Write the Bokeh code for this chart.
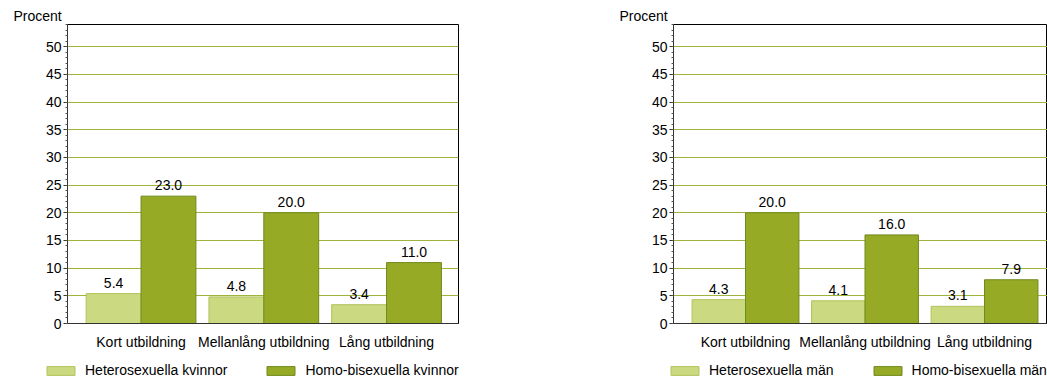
import numpy as np
from bokeh.plotting import figure
from bokeh.layouts import row, column
from bokeh.core.properties import value
from bokeh.models import (ColumnDataSource, Range1d, SingleIntervalTicker, FixedTicker,
                          LabelSet, Legend, LegendItem, Title)
from bokeh.embed import file_html
from bokeh.resources import INLINE

categories = ["Kort utbildning", "Mellanlång utbildning", "Lång utbildning"]
women_hetero = [5.4, 4.8, 3.4]
women_homo = [23.0, 20.0, 11.0]
men_hetero = [4.3, 4.1, 3.1]
men_homo = [20.0, 16.0, 7.9]
legend_women = ["Heterosexuella kvinnor", "Homo-bisexuella kvinnor"]
legend_men = ["Heterosexuella män", "Homo-bisexuella män"]
y_label = "Procent"

FONT = "Liberation Sans"
FS = "14px"
BAR = "#97aa25"
BAR_LINE = "#6f8a1e"
HET = "#cbd981"
HET_LINE = "#b0c45a"
GRID = "#9fb43a"


def make_chart(hetero, homo, x_start, x_end, frame_w, border_left, border_right,
               title_offset):
    centers = np.arange(len(categories)) + 0.5
    w = 0.447
    src_h = ColumnDataSource(dict(x=centers - w / 2, y=hetero,
                                  t=[f"{v:.1f}" for v in hetero]))
    src_b = ColumnDataSource(dict(x=centers + w / 2, y=homo,
                                  t=[f"{v:.1f}" for v in homo]))
    p = figure(frame_width=frame_w, frame_height=299,
               x_range=Range1d(x_start, x_end), y_range=Range1d(0, 54),
               output_backend="svg", toolbar_location=None,
               min_border_left=border_left, min_border_right=border_right,
               min_border_top=24, min_border_bottom=33)
    p.title = Title(text=y_label, align="left", offset=title_offset,
                    text_font=FONT, text_font_size=FS, text_font_style="normal",
                    text_color="black", standoff=1)
    p.background_fill_color = "white"
    p.border_fill_color = "white"
    p.outline_line_color = "black"
    p.outline_line_width = 1

    p.vbar(x="x", top="y", width=w, source=src_h,
           fill_color=HET, line_color=HET_LINE, line_width=1)
    p.vbar(x="x", top="y", width=w, source=src_b,
           fill_color=BAR, line_color=BAR_LINE, line_width=1)

    for s in (src_h, src_b):
        p.add_layout(LabelSet(x="x", y="y", text="t", source=s, text_align="center",
                              text_baseline="alphabetic", y_offset=6,
                              text_font=value(FONT), text_font_size=value(FS),
                              text_color="black"))

    p.yaxis.ticker = SingleIntervalTicker(interval=5, num_minor_ticks=5)
    p.yaxis.major_label_text_font = FONT
    p.yaxis.major_label_text_font_size = FS
    p.yaxis.major_label_text_color = "black"
    p.yaxis.major_tick_out = 4
    p.yaxis.major_tick_in = 0
    p.yaxis.minor_tick_out = 2
    p.yaxis.minor_tick_in = 0
    p.yaxis.major_label_standoff = 2
    p.yaxis.axis_line_color = "#333333"
    p.yaxis.major_tick_line_color = "#333333"
    p.yaxis.minor_tick_line_color = "#555555"

    p.xaxis.ticker = FixedTicker(ticks=list(centers))
    p.xaxis.major_label_overrides = {float(c): cat for c, cat in zip(centers, categories)}
    p.xaxis.major_label_text_font = FONT
    p.xaxis.major_label_text_font_size = FS
    p.xaxis.major_label_text_color = "black"
    p.xaxis.major_tick_line_color = None
    p.xaxis.minor_tick_line_color = None
    p.xaxis.major_tick_out = 0
    p.xaxis.major_tick_in = 0
    p.xaxis.major_label_standoff = 10
    p.xaxis.axis_line_color = "#333333"

    p.xgrid.grid_line_color = None
    p.ygrid.grid_line_color = GRID
    p.ygrid.grid_line_width = 1
    p.ygrid.ticker = FixedTicker(ticks=list(range(5, 55, 5)))
    return p


def make_legend(labels, width, legend_x):
    lp = figure(frame_width=width, frame_height=25, min_border=0,
                x_range=Range1d(0, 1), y_range=Range1d(0, 1),
                output_backend="svg", toolbar_location=None,
                x_axis_location=None, y_axis_location=None)
    lp.outline_line_color = None
    lp.grid.visible = False
    # legend-key carriers: one point each, placed outside the visible range
    r1 = lp.vbar(x="x", top="y", width=0.1,
                 source=ColumnDataSource(dict(x=[-5.0], y=[0.0])),
                 fill_color=HET, line_color=HET_LINE, line_width=1)
    r2 = lp.vbar(x="x", top="y", width=0.1,
                 source=ColumnDataSource(dict(x=[-5.0], y=[0.0])),
                 fill_color=BAR, line_color=BAR_LINE, line_width=1)
    legend = Legend(items=[LegendItem(label=labels[0], renderers=[r1], index=0),
                           LegendItem(label=labels[1], renderers=[r2], index=0)],
                    orientation="horizontal", location=(legend_x, 3),
                    border_line_color=None, background_fill_alpha=0,
                    padding=0, margin=0, spacing=36, glyph_width=35, glyph_height=11,
                    label_standoff=7, label_text_font=FONT, label_text_font_size=FS,
                    label_text_color="black", label_height=11)
    lp.add_layout(legend, "center")
    return lp


p1 = make_chart(women_hetero, women_homo, -0.099, 3.086, 391, 67, 65, -54)
p2 = make_chart(men_hetero, men_homo, -0.1025, 3.027, 374, 150, 0, -54)
l1 = make_legend(legend_women, 523, 43)
l2 = make_legend(legend_men, 524, 144)

layout = column(row(p1, p2, spacing=0), row(l1, l2, spacing=0), spacing=0)
open("out.html", "w").write(file_html(layout, INLINE))
